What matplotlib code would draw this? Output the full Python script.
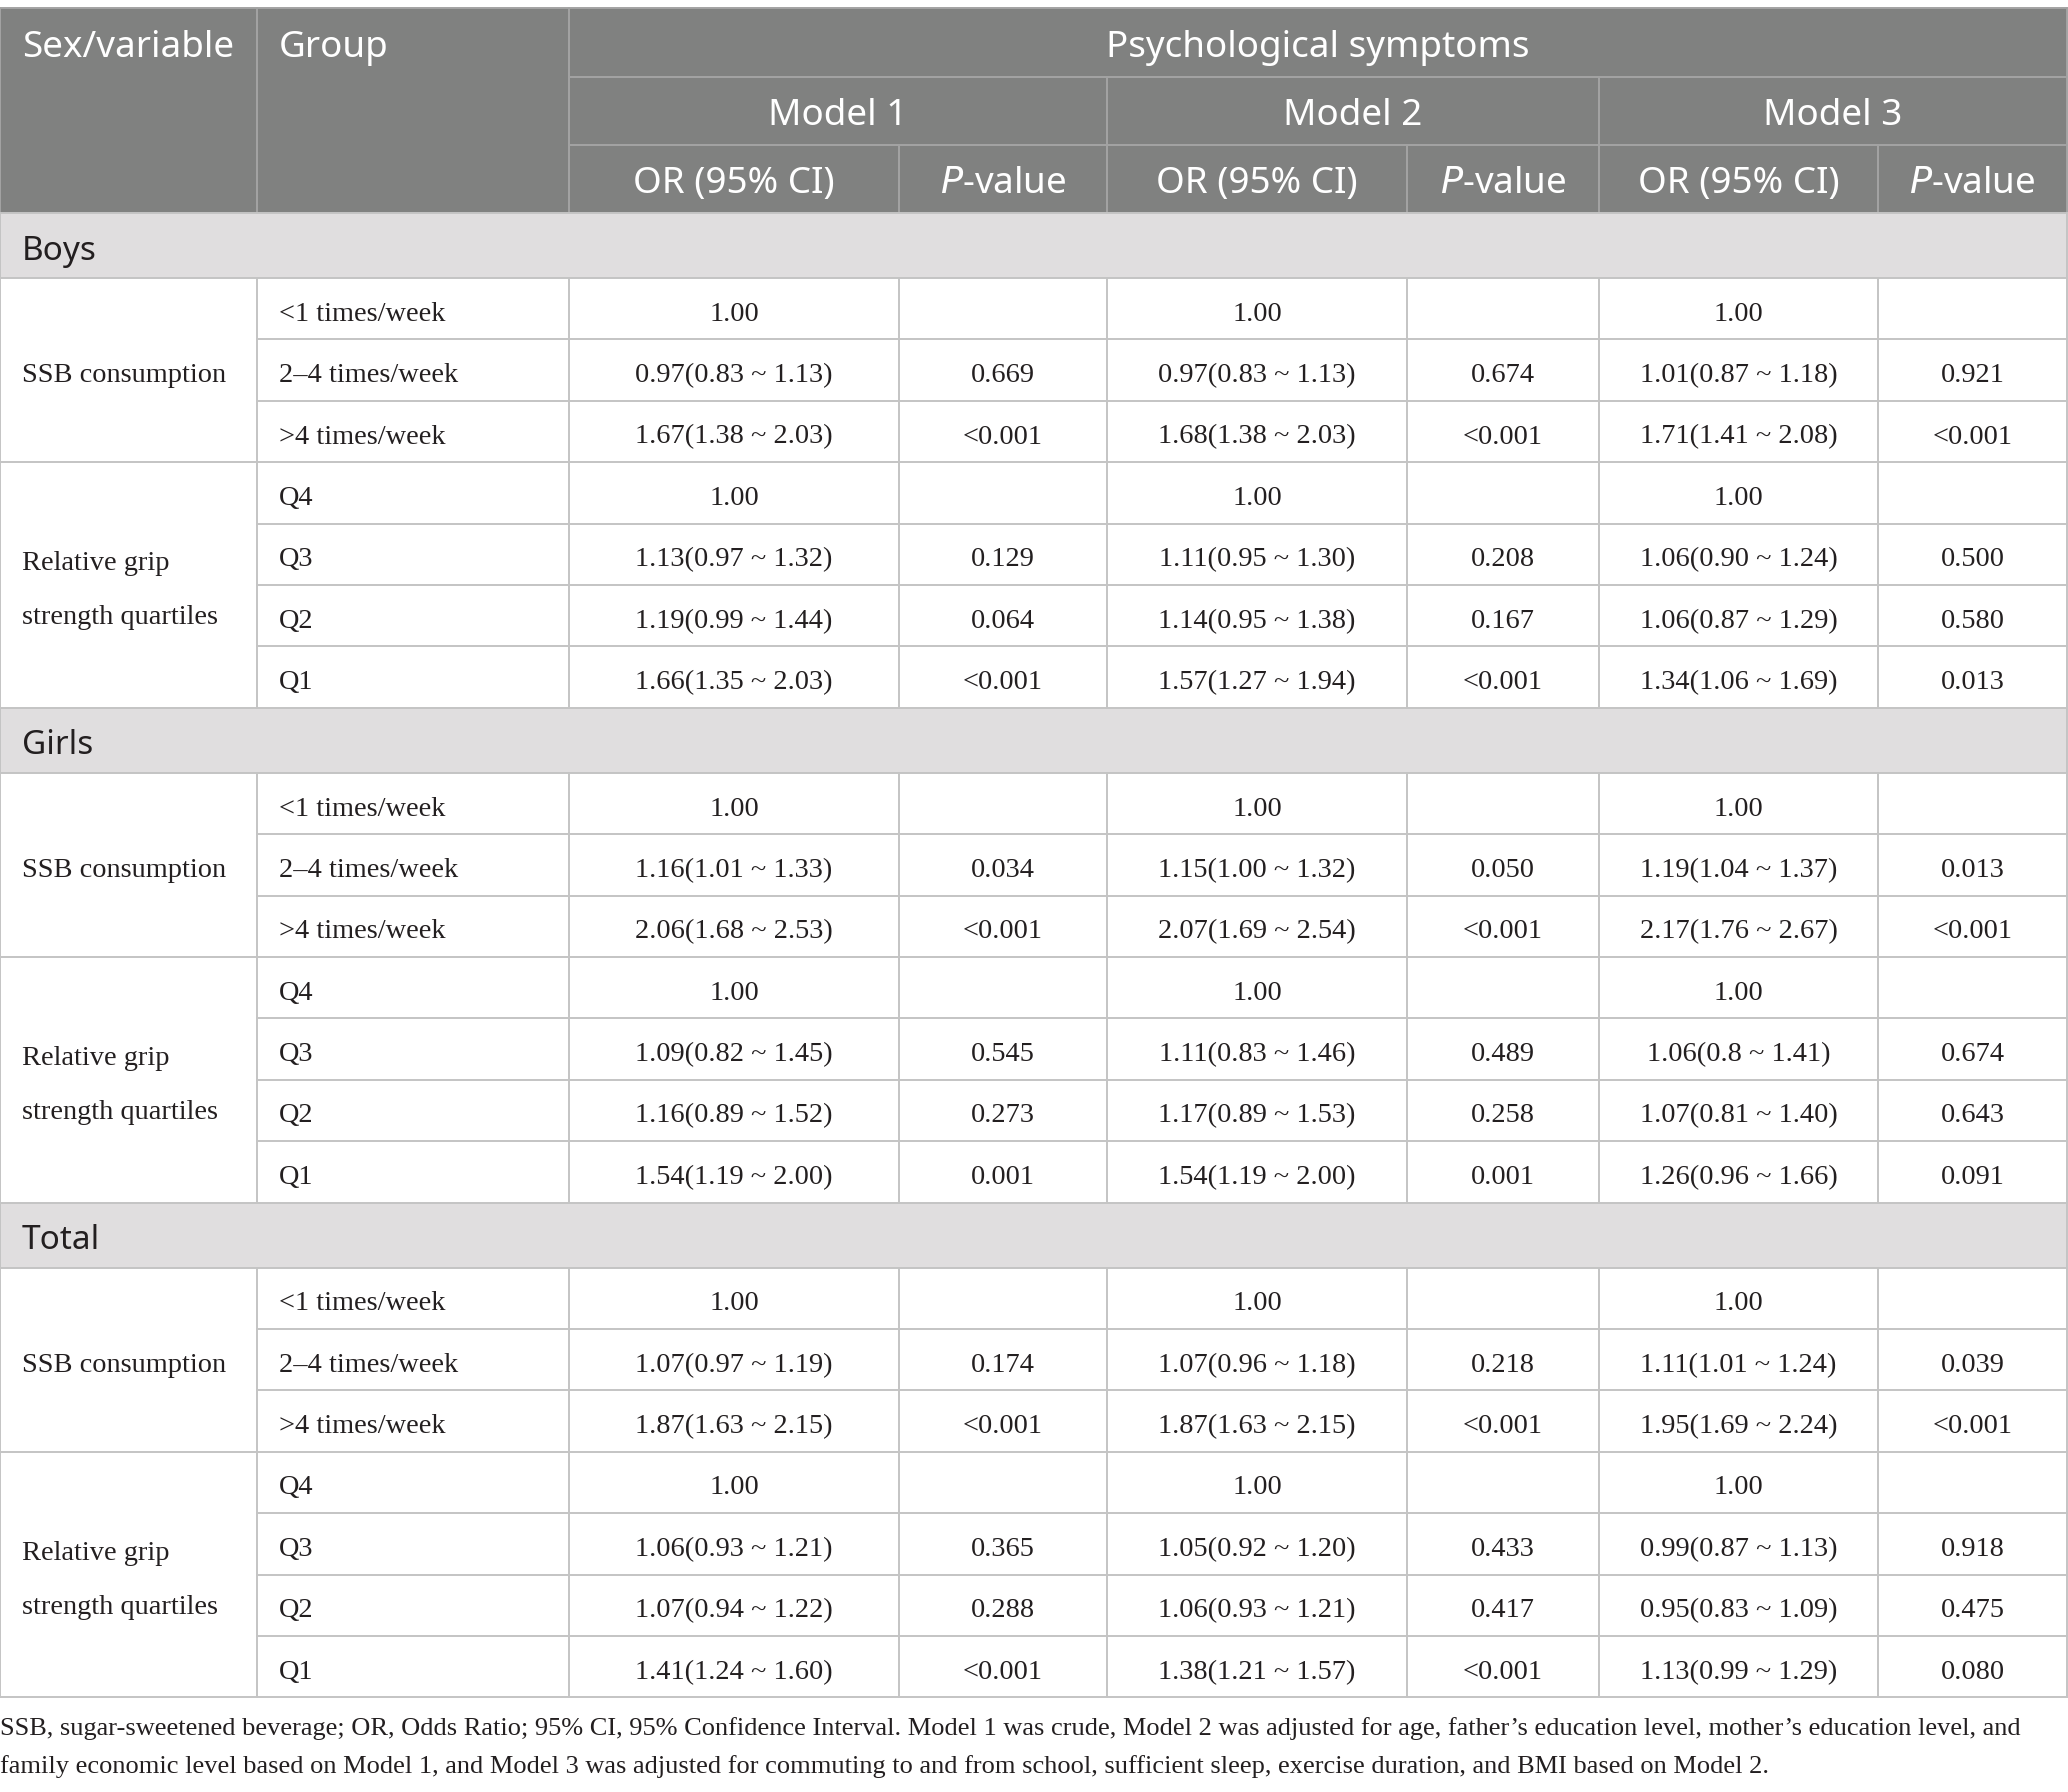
import matplotlib
matplotlib.use("Agg")
import matplotlib.pyplot as plt

# table content
sections = ["Boys", "Girls", "Total"]
variables = ["SSB consumption", "Relative grip\nstrength quartiles"]
groups = ["<1 times/week", "2–4 times/week", ">4 times/week", "Q4", "Q3", "Q2", "Q1"]
header_cols = ["OR (95% CI)", "$\\it{P}$-value"] * 3
models = ["Model 1", "Model 2", "Model 3"]

boys_or = [
    ["1.00", "0.97(0.83 ~ 1.13)", "1.67(1.38 ~ 2.03)", "1.00", "1.13(0.97 ~ 1.32)", "1.19(0.99 ~ 1.44)", "1.66(1.35 ~ 2.03)"],
    ["1.00", "0.97(0.83 ~ 1.13)", "1.68(1.38 ~ 2.03)", "1.00", "1.11(0.95 ~ 1.30)", "1.14(0.95 ~ 1.38)", "1.57(1.27 ~ 1.94)"],
    ["1.00", "1.01(0.87 ~ 1.18)", "1.71(1.41 ~ 2.08)", "1.00", "1.06(0.90 ~ 1.24)", "1.06(0.87 ~ 1.29)", "1.34(1.06 ~ 1.69)"],
]
boys_p = [
    ["", "0.669", "<0.001", "", "0.129", "0.064", "<0.001"],
    ["", "0.674", "<0.001", "", "0.208", "0.167", "<0.001"],
    ["", "0.921", "<0.001", "", "0.500", "0.580", "0.013"],
]
girls_or = [
    ["1.00", "1.16(1.01 ~ 1.33)", "2.06(1.68 ~ 2.53)", "1.00", "1.09(0.82 ~ 1.45)", "1.16(0.89 ~ 1.52)", "1.54(1.19 ~ 2.00)"],
    ["1.00", "1.15(1.00 ~ 1.32)", "2.07(1.69 ~ 2.54)", "1.00", "1.11(0.83 ~ 1.46)", "1.17(0.89 ~ 1.53)", "1.54(1.19 ~ 2.00)"],
    ["1.00", "1.19(1.04 ~ 1.37)", "2.17(1.76 ~ 2.67)", "1.00", "1.06(0.8 ~ 1.41)", "1.07(0.81 ~ 1.40)", "1.26(0.96 ~ 1.66)"],
]
girls_p = [
    ["", "0.034", "<0.001", "", "0.545", "0.273", "0.001"],
    ["", "0.050", "<0.001", "", "0.489", "0.258", "0.001"],
    ["", "0.013", "<0.001", "", "0.674", "0.643", "0.091"],
]
total_or = [
    ["1.00", "1.07(0.97 ~ 1.19)", "1.87(1.63 ~ 2.15)", "1.00", "1.06(0.93 ~ 1.21)", "1.07(0.94 ~ 1.22)", "1.41(1.24 ~ 1.60)"],
    ["1.00", "1.07(0.96 ~ 1.18)", "1.87(1.63 ~ 2.15)", "1.00", "1.05(0.92 ~ 1.20)", "1.06(0.93 ~ 1.21)", "1.38(1.21 ~ 1.57)"],
    ["1.00", "1.11(1.01 ~ 1.24)", "1.95(1.69 ~ 2.24)", "1.00", "0.99(0.87 ~ 1.13)", "0.95(0.83 ~ 1.09)", "1.13(0.99 ~ 1.29)"],
]
total_p = [
    ["", "0.174", "<0.001", "", "0.365", "0.288", "<0.001"],
    ["", "0.218", "<0.001", "", "0.433", "0.417", "<0.001"],
    ["", "0.039", "<0.001", "", "0.918", "0.475", "0.080"],
]
footnote = [
    "SSB, sugar-sweetened beverage; OR, Odds Ratio; 95% CI, 95% Confidence Interval. Model 1 was crude, Model 2 was adjusted for age, father’s education level, mother’s education level, and",
    "family economic level based on Model 1, and Model 3 was adjusted for commuting to and from school, sufficient sleep, exercise duration, and BMI based on Model 2.",
]

# layout (pixels)
W, H = 2068, 1792
col_x = [0, 257, 569, 899, 1107, 1407, 1599, 1878, 2067]
top = 8
head_rows = [8, 77, 145, 213]
sec_h = 65
row_h = 61.4

HEAD_BG = "#808180"
SEC_BG = "#e0dedf"
HEAD_LINE = "#a3a3a3"
GRID = "#c4c4c4"
TXT = "#231f20"
SANS = "Noto Sans"
SERIF = "Liberation Serif"
fs_head = 26.5
fs_sec = 24
fs_body = 20.4

fig = plt.figure(figsize=(W / 100, H / 100), dpi=100)
ax = fig.add_axes([0, 0, 1, 1])
ax.set_xlim(0, W)
ax.set_ylim(H, 0)
ax.axis("off")

lw = 1.4

# header block
ax.fill_between([0, col_x[-1]], head_rows[0], head_rows[-1], color=HEAD_BG, lw=0)
ax.plot([0, col_x[-1]], [top, top], color=HEAD_LINE, lw=lw)
ax.plot([col_x[2], col_x[-1]], [head_rows[1]] * 2, color=HEAD_LINE, lw=lw)
ax.plot([col_x[2], col_x[-1]], [head_rows[2]] * 2, color=HEAD_LINE, lw=lw)
for x in [0, col_x[1], col_x[2], col_x[-1]]:
    ax.plot([x, x], [head_rows[0], head_rows[3]], color=HEAD_LINE, lw=lw)
for x in [col_x[4], col_x[6]]:
    ax.plot([x, x], [head_rows[1], head_rows[3]], color=HEAD_LINE, lw=lw)
for x in [col_x[3], col_x[5], col_x[7]]:
    ax.plot([x, x], [head_rows[2], head_rows[3]], color=HEAD_LINE, lw=lw)

hkw = dict(color="white", fontsize=fs_head, family=SANS, va="baseline")
ax.text(22, 57, "Sex/variable", ha="left", **hkw)
ax.text(col_x[1] + 22, 57, "Group", ha="left", **hkw)
ax.text((col_x[2] + col_x[-1]) / 2, 57, "Psychological symptoms", ha="center", **hkw)
for i, m in enumerate(models):
    cx = (col_x[2 + 2 * i] + col_x[4 + 2 * i]) / 2
    ax.text(cx, 125, m, ha="center", **hkw)
for i, h in enumerate(header_cols):
    cx = (col_x[2 + i] + col_x[3 + i]) / 2
    ax.text(cx, 193, h, ha="center", **hkw)

section_or = [boys_or, girls_or, total_or]
section_p = [boys_p, girls_p, total_p]

y = head_rows[-1]
for s, name in enumerate(sections):
    # section band
    ax.fill_between([0, col_x[-1]], y, y + sec_h, color=SEC_BG, lw=0)
    ax.plot([0, col_x[-1]], [y, y], color=GRID, lw=lw)
    ax.plot([0, 0], [y, y + sec_h], color=GRID, lw=lw)
    ax.plot([col_x[-1]] * 2, [y, y + sec_h], color=GRID, lw=lw)
    ax.text(22, y + sec_h / 2 + 14, name, ha="left", va="baseline",
            fontsize=fs_sec, family=SANS, color=TXT)
    y += sec_h
    y0 = y
    for r, g in enumerate(groups):
        ry = y0 + r * row_h
        x_start = 0 if r in (0, 3) else col_x[1]
        ax.plot([x_start, col_x[-1]], [ry, ry], color=GRID, lw=lw)
        base = ry + row_h / 2 + 12
        ax.text(col_x[1] + 22, base, g, ha="left", va="baseline",
                fontsize=fs_body, family=SERIF, color=TXT)
        for m in range(3):
            c_or = (col_x[2 + 2 * m] + col_x[3 + 2 * m]) / 2
            c_p = (col_x[3 + 2 * m] + col_x[4 + 2 * m]) / 2
            ax.text(c_or, base, section_or[s][m][r], ha="center", va="baseline",
                    fontsize=fs_body, family=SERIF, color=TXT)
            ax.text(c_p, base, section_p[s][m][r], ha="center", va="baseline",
                    fontsize=fs_body, family=SERIF, color=TXT)
    y_end = y0 + len(groups) * row_h
    for x in col_x:
        ax.plot([x, x], [y0, y_end], color=GRID, lw=lw)
    # variable labels, merged cells
    ssb_c = y0 + 1.5 * row_h
    ax.text(22, ssb_c + 12, variables[0], ha="left", va="baseline",
            fontsize=fs_body, family=SERIF, color=TXT)
    grip_c = y0 + 5 * row_h
    for k, line in enumerate(variables[1].split("\n")):
        ax.text(22, grip_c + 12 + (k - 0.5) * 54, line, ha="left", va="baseline",
                fontsize=fs_body, family=SERIF, color=TXT)
    y = y_end

ax.plot([0, col_x[-1]], [y, y], color=GRID, lw=lw)

for k, line in enumerate(footnote):
    ax.text(0, 1735 + 38 * k, line, ha="left", va="baseline",
            fontsize=19, family=SERIF, color=TXT)

fig.savefig("out.png", dpi=100)
